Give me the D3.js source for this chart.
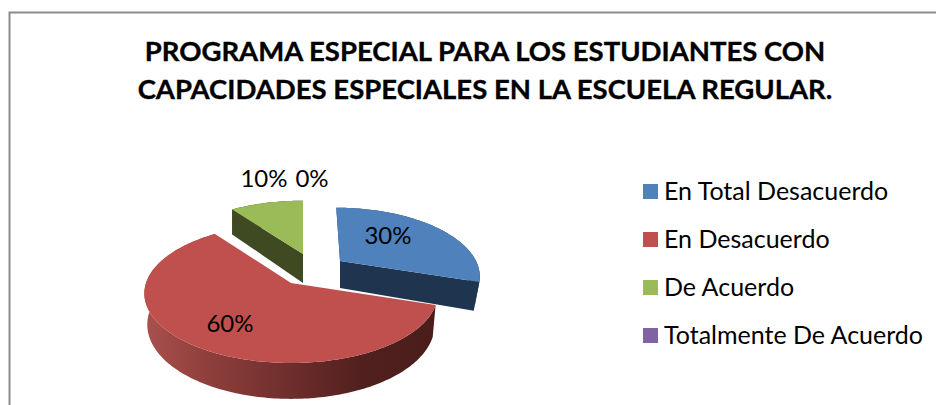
<!DOCTYPE html>
<html><head><meta charset="utf-8">
<script src="https://cdn.jsdelivr.net/npm/d3@7"></script>
<style>html,body{margin:0;padding:0;background:#fff;overflow:hidden}svg{display:block}</style>
</head><body><svg id="c" width="936" height="405"></svg>
<script>
const titleLines = ["PROGRAMA ESPECIAL PARA LOS ESTUDIANTES CON","CAPACIDADES ESPECIALES EN LA ESCUELA REGULAR."];
const categories = ["En Total Desacuerdo","En Desacuerdo","De Acuerdo","Totalmente De Acuerdo"];
const values = [30,60,10,0];
const colors = ["#4f81bd","#c0504d","#9bbb59","#8064a2"];
const sideColors = ["#1f354f","url(#redSide)","#3f4a22","#3f3150"];

const FONT = "Lato, Carlito, Calibri, sans-serif";
const svg = d3.select("#c");
svg.append("rect").attr("x",9.5).attr("y",12.5).attr("width",960).attr("height",440)
  .attr("fill","#fff").attr("stroke","#8c8c8c").attr("stroke-width",2);

const grad = svg.append("defs").append("linearGradient").attr("id","redSide")
  .attr("gradientUnits","userSpaceOnUse").attr("x1",146).attr("x2",434).attr("y1",0).attr("y2",0);
[[0,"#a9504d"],[0.2,"#90403d"],[0.5,"#6e2e2c"],[0.75,"#50201e"],[1,"#4a1d1b"]]
  .forEach(s=>grad.append("stop").attr("offset",s[0]).attr("stop-color",s[1]));

svg.selectAll("text.t").data(titleLines).join("text").attr("class","t")
  .attr("x",485).attr("y",(d,i)=>61+i*38).attr("text-anchor","middle")
  .attr("font-family",FONT).attr("font-weight",700).attr("font-size",27.5)
  .attr("stroke","#000").attr("stroke-width",0.35)
  .attr("fill","#000").text(d=>d);

// 3D pie projection, one setting per exploded slice
const views=[
  {c:[340,261],k:.2,rx:136,ry:64,depth:27,shear:.07,narrow:.03},
  {c:[291,283],k:.15,rx:145,ry:68,depth:30.5,shear:0,narrow:.02},
  {c:[303,254],k:.2,rx:140,ry:64,depth:29,shear:0,narrow:0},
  {c:[303,254],k:.2,rx:140,ry:64,depth:29,shear:0,narrow:0}
];
const pie=d3.pie().sort(null).value(d=>d);
const arcs=pie(values);
const proj=(v,a,r=1,dz=0)=>{
  const s=1/(1+v.k*Math.cos(a)*r);
  const dy=-v.ry*r*Math.cos(a)*s;
  const dx=v.rx*r*Math.sin(a)*s*(1-v.narrow*dz)+v.shear*dy*(1-dz);
  return [v.c[0]+dx, v.c[1]+dy+dz*v.depth*s];
};
const line=d3.line();
const samples=(a0,a1)=>{
  const n=Math.max(2,Math.ceil(Math.abs(a1-a0)/0.02));
  return d3.range(n+1).map(i=>a0+(a1-a0)*i/n);
};
const g=svg.append("g");
[2,0,1].forEach(i=>{
  const d=arcs[i], v=views[i];
  const angs=samples(d.startAngle,d.endAngle);
  const top=angs.map(a=>proj(v,a));
  const bot=angs.map(a=>proj(v,a,1,1)).reverse();
  g.append("path").attr("d",line(top.concat(bot))+"Z").attr("fill",sideColors[i]);
  if(i!==1)[d.startAngle,d.endAngle].forEach(a=>{
    const w=[proj(v,0,0),proj(v,a),proj(v,a,1,1),proj(v,0,0,1)];
    g.append("path").attr("d",line(w)+"Z").attr("fill",sideColors[i]);
  });
  g.append("path").attr("d",line([proj(v,0,0)].concat(top))+"Z").attr("fill",colors[i]);
});

// labels
const labelAnchors=[[388,238],[230,326],[264,181],[312,181]];
svg.selectAll("text.l").data(values).join("text").attr("class","l")
  .attr("x",(d,i)=>labelAnchors[i][0]).attr("y",(d,i)=>labelAnchors[i][1])
  .attr("text-anchor","middle").attr("dominant-baseline","middle")
  .attr("font-family",FONT).attr("font-size",24).attr("fill","#000")
  .text(d=>d+"%");

// legend
const ly=d3.scalePoint().domain(categories).range([191.5,335.5]);
const lg=svg.selectAll("g.lg").data(categories).join("g").attr("class","lg")
  .attr("transform",d=>`translate(643,${ly(d)})`);
lg.append("rect").attr("x",0).attr("y",-7.5).attr("width",15).attr("height",15)
  .attr("fill",(d,i)=>colors[i]);
lg.append("text").attr("x",21).attr("y",8).attr("font-family",FONT).attr("font-size",25)
  .attr("fill","#000").text(d=>d);
</script></body></html>
